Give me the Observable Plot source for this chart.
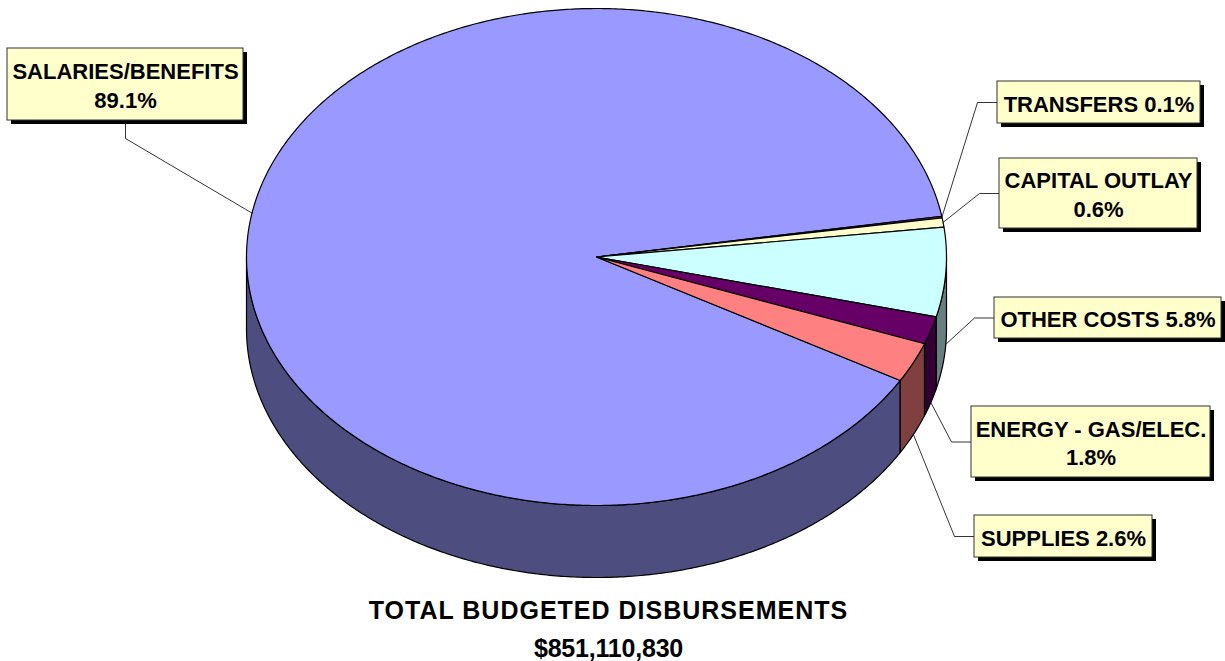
<!DOCTYPE html>
<html>
<head>
<meta charset="utf-8">
<script src="https://cdn.jsdelivr.net/npm/d3@7"></script>
<script src="https://cdn.jsdelivr.net/npm/@observablehq/plot@0.6"></script>
<style>
  html, body { margin: 0; padding: 0; background: #fff; }
  #wrap { width: 1225px; }
  #title { width: 1225px; text-align: center; font-family: "Liberation Sans", Arial, sans-serif; font-weight: bold; font-size: 25px; line-height: 38px; color: #000; padding-right: 8px; box-sizing: border-box; }
  #title .l1 { letter-spacing: 1px; }
  #title .l2 { letter-spacing: -0.2px; }
</style>
</head>
<body>
<div id="wrap"></div>
<div id="title"><div class="l1">TOTAL BUDGETED DISBURSEMENTS</div><div class="l2" id="total"></div></div>
<script>
// ---------- data ----------
const categories = ["SALARIES/BENEFITS", "TRANSFERS", "CAPITAL OUTLAY", "OTHER COSTS", "ENERGY - GAS/ELEC.", "SUPPLIES"];
const shares = [89.1, 0.1, 0.6, 5.8, 1.8, 2.6];
const totalLabel = "$851,110,830";

// ---------- styles ----------
const topColors  = ["#9999FF", "#993366", "#FFFFCC", "#CCFFFF", "#660066", "#FF8080"];
const sideColors = ["#4D4D80", "#4D1A33", "#808066", "#668080", "#330033", "#804040"];
const labelBreak = [true, false, true, false, true, false];
// label box layout (left, top, right, bottom) and side of leader
const labelBoxes = [
  {x1: 7,   y1: 48,  x2: 243,  y2: 120, side: "below"},
  {x1: 997, y1: 81,  x2: 1200, y2: 123, side: "left"},
  {x1: 999, y1: 158, x2: 1197, y2: 228, side: "left"},
  {x1: 994, y1: 297, x2: 1221, y2: 338, side: "left"},
  {x1: 971, y1: 406, x2: 1210, y2: 477, side: "left"},
  {x1: 974, y1: 515, x2: 1152, y2: 557, side: "left"}
];

document.getElementById("total").textContent = totalLabel;

// ---------- geometry ----------
const W = 1225, H = 591;
const cx = 596, cy = 256.5, rx = 350, ry = 248.5, depth = 72;
const startDeg = 29.8; // screen angle (clockwise, y down) where first slice begins
const rad = d => d * Math.PI / 180;
const total = d3.sum(shares);

let acc = startDeg;
const slices = categories.map((c, i) => {
  const a0 = acc, a1 = acc + shares[i] / total * 360;
  acc = a1;
  return {i, name: c, share: shares[i], a0, a1};
});

const pt = (deg, dy = 0) => ({x: cx + rx * Math.cos(rad(deg)), y: cy + ry * Math.sin(rad(deg)) + dy});
function arc(a0, a1, dy, step = 0.5) {
  const n = Math.max(2, Math.ceil(Math.abs(a1 - a0) / step) + 1);
  return d3.range(n).map(k => pt(a0 + (a1 - a0) * k / (n - 1), dy));
}

// top faces
const tops = [];
slices.forEach(s => {
  const pts = [{x: cx, y: cy}, ...arc(s.a0, s.a1, 0)];
  pts.forEach(p => tops.push({...p, key: s.name, fill: topColors[s.i]}));
});

// side walls (front half only: 0..180 deg, with wrap)
const walls = [];
slices.forEach(s => {
  [0, 360, -360].forEach(off => {
    const lo = Math.max(s.a0, 0 + off), hi = Math.min(s.a1, 180 + off);
    if (hi > lo) {
      const pts = [...arc(lo, hi, 0), ...arc(hi, lo, depth)];
      pts.forEach(p => walls.push({...p, key: s.name + off, fill: sideColors[s.i]}));
    }
  });
});

// labels
const labels = slices.map(s => {
  const b = labelBoxes[s.i];
  const pct = s.share.toFixed(1) + "%";
  return {
    ...b,
    name: s.name,
    text: s.name + (labelBreak[s.i] ? "\n" : " ") + pct,
    tx: (b.x1 + b.x2) / 2,
    ty: (b.y1 + b.y2) / 2
  };
});

// leader lines
const leaders = [];
slices.forEach(s => {
  const b = labelBoxes[s.i];
  let mid = ((s.a0 + s.a1) / 2) % 360;
  if (mid < 0) mid += 360;
  const front = mid > 0 && mid < 180;
  const anchor = pt(mid, front ? depth : 0);
  let elbow, end;
  if (b.side === "below") {
    const bx = (b.x1 + b.x2) / 2;
    end = {x: bx, y: b.y2};
    elbow = {x: bx, y: b.y2 + 18};
  } else {
    const by = (b.y1 + b.y2) / 2;
    end = {x: b.x1, y: by};
    elbow = {x: b.x1 - 20, y: by};
  }
  [anchor, elbow, end].forEach(p => leaders.push({...p, key: s.name}));
});

const font = "'Liberation Sans', Arial, sans-serif";

const chart = Plot.plot({
  width: W,
  height: H,
  margin: 0,
  style: {background: "#fff", overflow: "visible"},
  x: {domain: [0, W], range: [0, W], axis: null},
  y: {domain: [0, H], range: [0, H], axis: null},
  color: {type: "identity"},
  marks: [
    Plot.line(walls, {x: "x", y: "y", z: "key", fill: "fill", stroke: "#000", strokeWidth: 1.2, curve: "linear-closed", strokeLinejoin: "round"}),
    Plot.line(tops, {x: "x", y: "y", z: "key", fill: "fill", stroke: "#000", strokeWidth: 1.2, curve: "linear-closed", strokeLinejoin: "round"}),
    Plot.line(leaders, {x: "x", y: "y", z: "key", stroke: "#000", strokeWidth: 0.8}),
    Plot.rect(labels, {x1: "x1", x2: "x2", y1: "y1", y2: "y2", fill: "#000", dx: 4, dy: 4}),
    Plot.rect(labels, {x1: "x1", x2: "x2", y1: "y1", y2: "y2", fill: "#FFFFCC", stroke: "#333", strokeWidth: 1}),
    Plot.text(labels, {x: "tx", y: "ty", text: "text", fontSize: 22, fontWeight: "bold", fontFamily: font, fill: "#000", textAnchor: "middle", lineAnchor: "middle", lineHeight: 1.3})
  ]
});
document.getElementById("wrap").appendChild(chart);
</script>
</body>
</html>
